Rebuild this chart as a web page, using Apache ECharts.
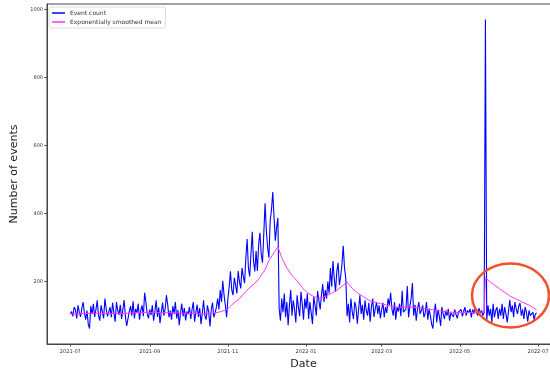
<!DOCTYPE html>
<html>
<head>
<meta charset="utf-8">
<script src="https://cdn.jsdelivr.net/npm/echarts@6/dist/echarts.min.js"></script>
<style>html,body{margin:0;padding:0;background:#fff}#c{width:550px;height:369px}</style>
</head>
<body>
<div id="c"></div>
<script>
// ---- data (daily event counts, 2021-07-01 .. 2022-06-30) ----
var startDate = '2021-07-01';
var counts = [
// Jul 2021
105,112,98,125,118,92,130,110,96,122,140,108,88,115,75,62,128,104,135,96,118,145,100,85,130,112,92,150,120,98,110,
// Aug
125,95,138,108,82,140,115,102,132,90,118,146,98,70,65,112,128,100,142,92,120,108,135,88,115,130,98,167,140,105,92,
// Sep
118,102,130,85,112,145,96,124,78,110,138,100,120,160,132,95,115,88,128,105,140,92,116,72,108,135,98,122,86,112,
// Oct
104,126,90,118,140,82,110,132,96,122,75,108,145,100,88,130,112,68,118,138,95,108,125,150,118,175,140,202,160,130,95,
// Nov
150,185,230,175,160,211,190,165,231,200,180,240,215,195,270,325,240,215,280,346,260,230,290,231,310,343,280,255,340,430,
// Dec
350,300,270,380,410,463,390,320,360,387,120,85,150,110,165,95,140,72,130,175,100,145,118,80,160,125,98,170,135,88,150,
// Jan 2022
120,165,90,140,108,75,155,130,100,172,145,118,160,193,140,175,150,200,165,240,185,260,210,170,230,255,190,215,250,305,240,
// Feb
210,98,135,80,150,112,90,140,125,76,118,160,105,132,88,145,115,100,138,82,125,150,96,120,140,105,130,92,
// Mar
118,138,95,125,108,150,130,167,120,100,140,88,125,112,135,98,173,110,105,120,187,95,128,150,196,100,132,85,120,140,105,
// Apr
115,130,95,108,140,88,120,100,75,62,110,135,80,118,98,70,125,105,90,115,100,120,85,108,112,96,118,104,92,110,
// May
105,118,98,112,125,100,115,108,120,95,118,105,125,110,100,122,108,115,100,110,970,85,130,100,120,80,135,95,115,125,90,
// Jun
120,100,135,90,125,105,80,76,146,110,130,95,140,120,105,128,137,100,118,90,125,110,82,115,100,95,110,88,105,108
];
// exponentially smoothed mean, read at selected days (day offset from startDate)
var meanDays   = [0,20,40,60,80,100,109,118,123,127,132,138,146,152,155,159,162,165,169,173,177,181,185,189,193,197,200,204,208,212,216,220,224,229,234,242,250,257,265,275,285,296,310,323,324,328,335,343,351,359,364];
var meanValues = [105,107,106,110,108,106,105,112,120,135,150,175,202,235,262,285,302,270,240,218,202,182,167,158,152,153,158,166,174,186,199,180,167,155,143,135,128,124,125,122,116,110,109,111,211,198,179,158,143,129,117];
var tickDates  = ['2021-07-01','2021-09-01','2021-11-01','2022-01-01','2022-03-01','2022-05-01','2022-07-01'];
var yTicks     = [200,400,600,800,1000];
var seriesNames = ['Event count','Exponentially smoothed mean'];

// ---- build ----
var DAY = 86400000;
function pad(n){return (n<10?'0':'')+n;}
function ts(s){var p=s.split('-');return Date.UTC(+p[0],+p[1]-1,+p[2]);}
var t0 = ts(startDate);
var countData = counts.map(function(v,i){return [t0 + i*DAY, v];});
var meanData = meanDays.map(function(d,i){return [t0 + d*DAY, meanValues[i]];});
var tEnd = t0 + (counts.length-1)*DAY;
var span = tEnd - t0;
var yMinData = Math.min.apply(null, counts), yMaxData = Math.max.apply(null, counts);
var tickTs = tickDates.map(ts);

var chart = echarts.init(document.getElementById('c'), null, {renderer:'canvas'});
var axisCol = '#444';
chart.setOption({
  animation:false,
  backgroundColor:'#fff',
  grid:{left:47, top:4, width:513, bottom:25, show:true, borderColor:axisCol, borderWidth:1,
        containLabel:false, outerBoundsMode:'none'},
  legend:{
    orient:'vertical', left:49, top:7,
    data:[{name:seriesNames[0], icon:'rect'},{name:seriesNames[1], icon:'rect'}],
    itemWidth:13, itemHeight:1.5, itemGap:3,
    padding:[3,4,3,3],
    borderColor:'#ddd', borderWidth:1, borderRadius:2, backgroundColor:'rgba(255,255,255,0.8)',
    textStyle:{fontSize:6, color:'#333', fontFamily:'DejaVu Sans'}
  },
  xAxis:{
    type:'value', min:t0 - 0.05*span, max:tEnd + 0.05*span,
    name:'Date', nameLocation:'middle', nameGap:14,
    nameTextStyle:{fontSize:11, color:'#222', fontFamily:'DejaVu Sans'},
    axisLine:{show:true, onZero:false, lineStyle:{color:axisCol, width:1}},
    axisTick:{show:true, length:2.5, lineStyle:{color:axisCol}, customValues:tickTs},
    axisLabel:{fontSize:5, color:'#333', margin:5, fontFamily:'DejaVu Sans', customValues:tickTs,
      hideOverlap:false, showMaxLabel:true,
      formatter:function(v){var d=new Date(v);return d.getUTCFullYear()+'-'+pad(d.getUTCMonth()+1);}},
    splitLine:{show:false}
  },
  yAxis:{
    type:'value', min:yMinData - 0.05*(yMaxData-yMinData), max:yMaxData + 0.05*(yMaxData-yMinData),
    name:'Number of events', nameLocation:'middle', nameGap:22,
    nameTextStyle:{fontSize:11, color:'#222', fontFamily:'DejaVu Sans'},
    axisLine:{show:true, onZero:false, lineStyle:{color:axisCol, width:1}},
    axisTick:{show:true, length:2.5, lineStyle:{color:axisCol}, customValues:yTicks},
    axisLabel:{fontSize:5, color:'#333', margin:4, fontFamily:'DejaVu Sans', customValues:yTicks,
      formatter:function(v){return String(v);}},
    splitLine:{show:false}
  },
  series:[
    {name:seriesNames[0], type:'line', data:countData, showSymbol:false, symbol:'none',
     lineStyle:{color:'#0000ff', width:1.1}, itemStyle:{color:'#0000ff'}, z:2},
    {name:seriesNames[1], type:'line', data:meanData, showSymbol:false, symbol:'none',
     lineStyle:{color:'#ff33ff', width:1}, itemStyle:{color:'#ff33ff'}, z:3}
  ],
  graphic:[
    {type:'ellipse', z:100, shape:{cx:510.5, cy:295.5, rx:38.5, ry:32}, style:{fill:null, stroke:'#f0502a', lineWidth:2.5}}
  ]
});
</script>
</body>
</html>
